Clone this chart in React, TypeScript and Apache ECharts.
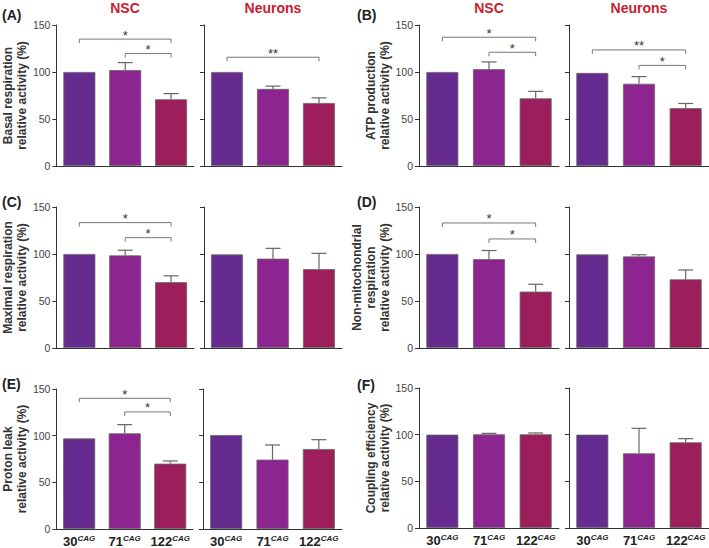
import React, { useEffect, useRef } from "react";
import * as echarts from "echarts";

// ---------- data ----------
const categories = ["30", "71", "122"];
const panelLabels = ["(A)", "(B)", "(C)", "(D)", "(E)", "(F)"];
const groupTitles = ["NSC", "Neurons"];
const yAxisNames = [
  "Basal respiration\nrelative activity (%)",
  "ATP production\nrelative activity (%)",
  "Maximal respiration\nrelative activity (%)",
  "Non-mitochondrial\nrespiration\nrelative activity (%)",
  "Proton leak\nrelative activity (%)",
  "Coupling efficiency\nrelative activity (%)",
];
const yMin = 0;
const yMax = 150;
const yStep = 50;

const nscMean = [
  [100, 102, 71],
  [100, 103, 72],
  [100, 98.5, 70],
  [100, 94.5, 60],
  [97, 102.5, 70],
  [100, 100.4, 100.4],
];
const nscErr = [
  [0, 8, 6],
  [0, 7.7, 7.4],
  [0, 5.5, 6.8],
  [0, 9.2, 7.8],
  [0, 9.3, 2.9],
  [0, 1, 1.4],
];
const neuronMean = [
  [100, 82, 67],
  [99, 87.5, 61.5],
  [99.5, 95, 84],
  [99.5, 97.4, 73],
  [100.7, 74.3, 85.7],
  [100, 80, 91.8],
];
const neuronErr = [
  [0, 3, 5.5],
  [0, 7.6, 5],
  [0, 11, 16.7],
  [0, 1.8, 10],
  [0, 15.7, 10],
  [0, 26.8, 3.9],
];
// [fromCategory, toCategory, bracketY, stars]
const nscSig: [number, number, number, string][][] = [
  [[0, 2, 135, "*"], [1, 2, 119.6, "*"]],
  [[0, 2, 137, "*"], [1, 2, 121, "*"]],
  [[0, 2, 133.4, "*"], [1, 2, 117.4, "*"]],
  [[0, 2, 133, "*"], [1, 2, 116, "*"]],
  [[0, 2, 140, "*"], [1, 2, 125.4, "*"]],
  [],
];
const neuronSig: [number, number, number, string][][] = [
  [[0, 2, 115.7, "**"]],
  [[0, 2, 123.5, "**"], [1, 2, 107, "*"]],
  [],
  [],
  [],
  [],
];

// ---------- style / layout ----------
const FONT = "'Liberation Sans', Arial, Helvetica, sans-serif";
const barColors = ["#652b8e", "#8d2590", "#9c1f5b"];
const titleColor = "#c8202f";
const rowTop = [25, 207, 389];
const rowH = [141, 141, 140];

function gridFor(p: number, g: number) {
  const row = Math.floor(p / 2);
  const col = p % 2;
  let top = rowTop[row];
  let height = rowH[row];
  if (p === 5) top = 388;
  let left: number, width: number;
  if (col === 0) {
    if (row === 2) {
      [left, width] = g === 0 ? [52, 141] : [203, 139];
    } else {
      [left, width] = g === 0 ? [56, 138] : [204, 138];
    }
  } else {
    [left, width] = g === 0 ? [419, 140] : [569, 140];
  }
  return { left, top, width, height };
}
const letterPos = [
  [2, 8],
  [357, 8],
  [2, 195],
  [357, 195],
  [2, 377],
  [357, 378],
];

export default function App() {
  const ref = useRef<HTMLDivElement>(null);
  useEffect(() => {
    if (!ref.current) return;
    const chart = echarts.init(ref.current, null, { renderer: "svg" });

    const grids: any[] = [];
    const xAxes: any[] = [];
    const yAxes: any[] = [];
    const series: any[] = [];
    const graphics: any[] = [];

    for (let p = 0; p < 6; p++) {
      const row = Math.floor(p / 2);
      for (let g = 0; g < 2; g++) {
        const k = grids.length;
        const gr = gridFor(p, g);
        grids.push({ ...gr, containLabel: false });
        const means = g === 0 ? nscMean[p] : neuronMean[p];
        const errs = g === 0 ? nscErr[p] : neuronErr[p];
        const sig = g === 0 ? nscSig[p] : neuronSig[p];

        xAxes.push({
          type: "category",
          gridIndex: k,
          data: categories,
          axisLine: { show: true, lineStyle: { color: "#333", width: 1 } },
          axisTick: { show: false },
          axisLabel: {
            show: row === 2,
            margin: 5,
            interval: 0,
            formatter: (v: string) => `{n|${v}}{s|CAG}`,
            rich: {
              n: { fontFamily: FONT, fontSize: 13, fontWeight: "bold", color: "#222", lineHeight: 15 },
              s: {
                fontFamily: FONT,
                fontSize: 8,
                fontWeight: "bold",
                fontStyle: "italic",
                color: "#222",
                verticalAlign: "top",
              },
            },
          },
          splitLine: { show: false },
        });

        yAxes.push({
          type: "value",
          gridIndex: k,
          min: yMin,
          max: yMax,
          interval: yStep,
          axisLine: { show: true, lineStyle: { color: "#333", width: 1 } },
          axisTick: { show: true, length: 4, lineStyle: { color: "#333" } },
          axisLabel: {
            show: g === 0,
            fontFamily: FONT,
            fontSize: 10.5,
            color: "#444",
            margin: 6,
          },
          splitLine: { show: false },
          name: g === 0 ? yAxisNames[p] : "",
          nameLocation: "middle",
          nameRotate: 90,
          nameGap: p === 3 ? 22 : 24,
          nameTextStyle: {
            fontFamily: FONT,
            fontSize: 12,
            fontWeight: "bold",
            color: "#333",
            lineHeight: 14,
          },
        });

        series.push({
          type: "bar",
          xAxisIndex: k,
          yAxisIndex: k,
          barWidth: 32,
          data: means.map((v, i) => ({
            value: v,
            itemStyle: { color: barColors[i], borderColor: "#666", borderWidth: 0.8 },
          })),
        });

        series.push({
          type: "custom",
          xAxisIndex: k,
          yAxisIndex: k,
          encode: { x: 0, y: 1 },
          data: means.map((m, i) => [i, m, errs[i]]),
          renderItem: (params: any, api: any) => {
            const x = api.value(0);
            const m = api.value(1);
            const e = api.value(2);
            if (!(e > 0)) return null;
            const p0 = api.coord([x, m]);
            const p1 = api.coord([x, m + e]);
            const half = 7.5;
            const st = { stroke: "#666", lineWidth: 1.2 };
            return {
              type: "group",
              children: [
                { type: "line", shape: { x1: p0[0], y1: p0[1], x2: p1[0], y2: p1[1] }, style: st },
                { type: "line", shape: { x1: p1[0] - half, y1: p1[1], x2: p1[0] + half, y2: p1[1] }, style: st },
              ],
            };
          },
        });

        if (sig.length) {
          series.push({
            type: "custom",
            xAxisIndex: k,
            yAxisIndex: k,
            encode: { x: [0, 1], y: 2 },
            data: sig.map((s) => [s[0], s[1], s[2]]),
            renderItem: (params: any, api: any) => {
              const a = api.coord([api.value(0), api.value(2)]);
              const b = api.coord([api.value(1), api.value(2)]);
              const stars = sig[params.dataIndex][3];
              return {
                type: "group",
                children: [
                  {
                    type: "polyline",
                    shape: {
                      points: [
                        [a[0], a[1] + 4],
                        [a[0], a[1]],
                        [b[0], b[1]],
                        [b[0], b[1] + 4],
                      ],
                    },
                    style: { stroke: "#777", lineWidth: 1, fill: null },
                  },
                  {
                    type: "text",
                    x: (a[0] + b[0]) / 2,
                    y: a[1] - 4,
                    style: {
                      text: stars,
                      align: "center",
                      verticalAlign: "middle",
                      font: `13px ${FONT}`,
                      fill: "#333",
                    },
                  },
                ],
              };
            },
          });
        }

        if (row === 0) {
          graphics.push({
            type: "text",
            x: gr.left + gr.width / 2,
            y: 8,
            style: {
              text: groupTitles[g],
              align: "center",
              verticalAlign: "middle",
              font: `bold 14px ${FONT}`,
              fill: titleColor,
            },
          });
        }
      }
      graphics.push({
        type: "text",
        x: letterPos[p][0],
        y: letterPos[p][1],
        style: {
          text: panelLabels[p],
          align: "left",
          verticalAlign: "top",
          font: `bold 14px ${FONT}`,
          fill: "#222",
        },
      });
    }

    chart.setOption({
      animation: false,
      backgroundColor: "#ffffff",
      grid: grids,
      xAxis: xAxes,
      yAxis: yAxes,
      series,
      graphic: graphics,
    });
    return () => chart.dispose();
  }, []);

  return (
    <div
      ref={ref}
      style={{ position: "absolute", left: 0, top: 0, width: 709, height: 548 }}
    />
  );
}
